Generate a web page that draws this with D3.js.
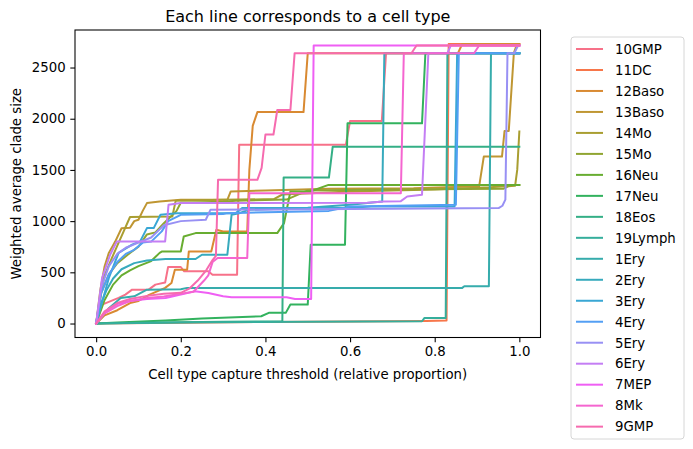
<html>
<head>
<script src="https://d3js.org/d3.v7.min.js"></script>
<style>
  body { margin: 0; background: #fff; }
  text { font-family: "DejaVu Sans", sans-serif; fill: #000; }
</style>
</head>
<body>
<svg id="chart" width="693" height="449"></svg>
<script>
// cell types, in legend (hue) order
const cellTypes = ["10GMP", "11DC", "12Baso", "13Baso", "14Mo", "15Mo", "16Neu", "17Neu", "18Eos",
  "19Lymph", "1Ery", "2Ery", "3Ery", "4Ery", "5Ery", "6Ery", "7MEP", "8Mk", "9GMP"];

// [threshold, weighted average clade size]
const v10GMP = [[0,0],[0.014,185],[0.053,250],[0.069,282],[0.085,331],[0.124,331],[0.14,380],[0.163,400],[0.17,552],[0.2,552],[0.208,510],[0.265,510],[0.275,477],[0.333,477],[0.338,1745],[0.59,1745],[0.6,1978],[0.675,1978],[0.685,2640],[1,2640]];
const v11DC = [[0,0],[0.2,8],[0.4,15],[0.6,20],[0.78,25],[0.828,30],[0.833,2730],[1,2730]];
const v12Baso = [[0,0],[0.02,80],[0.05,130],[0.08,200],[0.1,220],[0.125,280],[0.163,348],[0.178,396],[0.186,526],[0.215,526],[0.219,704],[0.272,704],[0.284,916],[0.3,899],[0.357,899],[0.362,1500],[0.37,1930],[0.381,2065],[0.49,2065],[0.5,2640],[0.855,2640],[0.865,2730],[1,2730]];
const v13Baso = [[0,0],[0.01,330],[0.02,560],[0.03,690],[0.045,800],[0.06,930],[0.08,935],[0.09,1000],[0.1,1013],[0.11,1100],[0.12,1176],[0.15,1191],[0.2,1208],[0.31,1208],[0.318,1290],[0.4,1300],[0.55,1315],[0.75,1320],[0.905,1340],[0.916,1630],[0.959,1630],[0.965,1880],[0.975,1880],[0.987,2640],[0.992,2700],[1,2720]];
const v14Mo = [[0,0],[0.01,280],[0.02,470],[0.035,620],[0.05,760],[0.065,900],[0.08,1040],[0.18,1045],[0.188,1200],[0.3,1208],[0.42,1215],[0.44,1260],[0.6,1290],[0.8,1310],[0.93,1330],[0.99,1345],[0.995,1500],[1,1875]];
const v15Mo = [[0,0],[0.012,300],[0.03,480],[0.05,590],[0.08,690],[0.1,750],[0.12,870],[0.14,890],[0.16,980],[0.19,1100],[0.2,1180],[0.3,1190],[0.33,1200],[0.45,1210],[0.5,1300],[0.7,1310],[0.962,1315],[0.98,1354],[1,1354]];
const v16Neu = [[0,0],[0.02,230],[0.04,380],[0.06,470],[0.08,520],[0.1,560],[0.13,610],[0.15,690],[0.156,704],[0.2,704],[0.207,850],[0.235,883],[0.428,883],[0.444,981],[0.459,1289],[0.506,1289],[0.549,1354],[1,1354]];
const v17Neu = [[0,0],[0.05,10],[0.164,29],[0.25,50],[0.39,71],[0.408,104],[0.448,104],[0.459,185],[0.5,185],[0.507,770],[0.588,770],[0.594,1955],[0.77,1955],[0.778,2640],[1,2640]];
const v18Eos = [[0,0],[0.1,8],[0.3,18],[0.44,22],[0.443,1425],[0.55,1425],[0.559,1727],[1,1727]];
const v19Lymph = [[0,0],[0.2,10],[0.5,18],[0.77,22],[0.776,55],[0.826,55],[0.83,2640],[1,2640]];
const v1Ery = [[0,0],[0.03,150],[0.058,250],[0.09,266],[0.12,331],[0.2,335],[0.215,348],[0.865,348],[0.87,364],[0.928,364],[0.933,2640],[1,2640]];
const v2Ery = [[0,0],[0.01,180],[0.025,330],[0.04,440],[0.06,530],[0.09,590],[0.12,615],[0.164,630],[0.235,630],[0.25,672],[0.31,672],[0.32,1062],[0.34,1080],[0.36,1110],[0.5,1130],[0.6,1160],[0.676,1191],[0.681,2640],[1,2640]];
const v3Ery = [[0,0],[0.03,445],[0.053,689],[0.085,770],[0.104,802],[0.12,932],[0.136,932],[0.152,1062],[0.191,1078],[0.33,1078],[0.345,1127],[0.6,1130],[0.65,1143],[0.847,1143],[0.853,2640],[1,2640]];
const v4Ery = [[0,0],[0.012,300],[0.03,480],[0.05,600],[0.07,680],[0.09,720],[0.11,790],[0.13,800],[0.155,900],[0.17,1000],[0.2,1062],[0.3,1070],[0.31,1078],[0.55,1100],[0.6,1143],[0.85,1160],[0.857,2640],[1,2640]];
const v5Ery = [[0,0],[0.012,350],[0.03,560],[0.05,680],[0.07,740],[0.1,790],[0.13,840],[0.16,960],[0.2,1000],[0.259,1013],[0.27,1110],[0.5,1115],[0.7,1120],[0.951,1127],[0.96,1150],[0.967,1210],[0.972,2640],[0.988,2640],[0.997,2715],[1,2715]];
const v6Ery = [[0,0],[0.014,445],[0.033,672],[0.049,802],[0.163,802],[0.171,1159],[0.2,1176],[0.64,1180],[0.68,1191],[0.72,1195],[0.735,1240],[0.77,1257],[0.785,2640],[0.83,2640],[0.838,2715],[1,2715]];
const v7MEP = [[0,0],[0.02,110],[0.05,190],[0.08,220],[0.12,240],[0.164,250],[0.2,282],[0.233,315],[0.265,299],[0.3,266],[0.32,256],[0.45,256],[0.47,240],[0.508,240],[0.514,2715],[1,2715]];
const v8Mk = [[0,0],[0.02,100],[0.05,170],[0.08,220],[0.12,250],[0.16,265],[0.2,290],[0.23,310],[0.255,420],[0.265,470],[0.275,600],[0.287,640],[0.357,640],[0.362,1273],[0.72,1273],[0.727,2640],[0.893,2640],[0.905,2715],[1,2715]];
const v9GMP = [[0,0],[0.02,120],[0.05,200],[0.08,240],[0.12,270],[0.16,290],[0.2,300],[0.22,340],[0.24,420],[0.26,520],[0.275,620],[0.283,660],[0.288,1403],[0.381,1403],[0.391,1520],[0.4,1846],[0.419,1846],[0.428,2085],[0.459,2085],[0.469,2640],[0.745,2640],[0.757,2715],[1,2715]];

const seriesValues = [v10GMP, v11DC, v12Baso, v13Baso, v14Mo, v15Mo, v16Neu, v17Neu, v18Eos, v19Lymph,
  v1Ery, v2Ery, v3Ery, v4Ery, v5Ery, v6Ery, v7MEP, v8Mk, v9GMP];

const xTicks = [0, 0.2, 0.4, 0.6, 0.8, 1.0];
const yTicks = [0, 500, 1000, 1500, 2000, 2500];

// seaborn's husl palette (h=.01, s=.9, l=.65)
function huslToRgb(h, s, l) {
  const m = [[3.2406, -1.5372, -0.4986], [-0.9689, 1.8758, 0.0415], [0.0557, -0.2040, 1.0570]];
  const refU = 0.19784, refV = 0.46834, kappa = 903.3, eps = 0.008856;
  const hrad = h * Math.PI / 180, sinH = Math.sin(hrad), cosH = Math.cos(hrad);
  const sub1 = Math.pow(l + 16, 3) / 1560896;
  const sub2 = sub1 > eps ? sub1 : l / kappa;
  let maxC = Infinity;
  m.forEach(([m1, m2, m3]) => {
    const top = (0.99915 * m1 + 1.05122 * m2 + 1.14460 * m3) * sub2;
    const rb = 0.86330 * m3 - 0.17266 * m2;
    const lb = 0.12949 * m3 - 0.38848 * m1;
    const bottom = (rb * sinH + lb * cosH) * sub2;
    [0, 1].forEach(t => {
      const C = l * (top - 1.05122 * t) / (bottom + 0.17266 * sinH * t);
      if (C > 0 && C < maxC) maxC = C;
    });
  });
  const C = maxC / 100 * s;
  const U = C * cosH, V = C * sinH;
  const t = (l + 16) / 116;
  const Y = Math.pow(t, 3) > eps ? Math.pow(t, 3) : (116 * t - 16) / kappa;
  const vu = U / (13 * l) + refU, vv = V / (13 * l) + refV;
  const X = -(9 * Y * vu) / ((vu - 4) * vv - vu * vv);
  const Z = (9 * Y - 15 * vv * Y - vv * X) / (3 * vv);
  const rgb = m.map(r => {
    const c = r[0] * X + r[1] * Y + r[2] * Z;
    const g = c <= 0.0031308 ? 12.92 * c : 1.055 * Math.pow(c, 1 / 2.4) - 0.055;
    return Math.round(Math.max(0, Math.min(1, g)) * 255);
  });
  return d3.rgb(rgb[0], rgb[1], rgb[2]).formatHex();
}
const n = cellTypes.length;
const palette = d3.range(n).map(i => huslToRgb(((i / n + 0.01) % 1) * 359, 0.9 * 99, 0.65 * 99));

const svg = d3.select("#chart");
const margin = { top: 30, right: 152.5, bottom: 111.5, left: 75 };
const width = 693 - margin.left - margin.right;
const height = 449 - margin.top - margin.bottom;

const x = d3.scaleLinear().domain([-0.05, 1.05]).range([0, width]);
const y = d3.scaleLinear().domain([-136.5, 2866.5]).range([height, 0]);

const g = svg.append("g").attr("transform", "translate(" + margin.left + "," + margin.top + ")");

const line = d3.line().x(d => x(d[0])).y(d => y(d[1]));

g.selectAll("path.series")
  .data(seriesValues)
  .join("path")
  .attr("class", "series")
  .attr("fill", "none")
  .attr("stroke", (d, i) => palette[i])
  .attr("stroke-width", 2)
  .attr("stroke-linejoin", "round")
  .attr("stroke-linecap", "square")
  .attr("d", line);

// axes, matplotlib style
const fontSize = 13.3;
const xAxis = g.append("g")
  .attr("transform", "translate(0," + height + ")")
  .call(d3.axisBottom(x).tickValues(xTicks).tickFormat(d3.format(".1f")).tickSizeInner(4.7).tickSizeOuter(0).tickPadding(4.7));
const yAxis = g.append("g")
  .call(d3.axisLeft(y).tickValues(yTicks).tickFormat(d3.format("d")).tickSizeInner(4.7).tickSizeOuter(0).tickPadding(4.7));
[xAxis, yAxis].forEach(a => {
  a.select(".domain").remove();
  a.selectAll("text").style("font-family", "DejaVu Sans").style("font-size", fontSize + "px").attr("fill", "#000");
  a.selectAll("line").attr("stroke", "#000").attr("stroke-width", 1.07);
});

g.append("rect")
  .attr("width", width).attr("height", height)
  .attr("fill", "none").attr("stroke", "#000").attr("stroke-width", 1.07);

svg.append("text")
  .attr("x", margin.left + width / 2).attr("y", 22)
  .attr("text-anchor", "middle").style("font-size", "16px")
  .text("Each line corresponds to a cell type");

svg.append("text")
  .attr("x", margin.left + width / 2).attr("y", 379)
  .attr("text-anchor", "middle").style("font-size", fontSize + "px")
  .text("Cell type capture threshold (relative proportion)");

svg.append("text")
  .attr("transform", "translate(21," + (margin.top + height / 2) + ") rotate(-90)")
  .attr("text-anchor", "middle").style("font-size", fontSize + "px")
  .text("Weighted average clade size");

// legend
const legend = svg.append("g").attr("transform", "translate(571,37)");
legend.append("rect")
  .attr("width", 113).attr("height", 402).attr("rx", 3)
  .attr("fill", "#fff").attr("fill-opacity", 0.8)
  .attr("stroke", "#d6d6d6").attr("stroke-width", 1);
const rows = legend.selectAll("g.row")
  .data(cellTypes)
  .join("g")
  .attr("class", "row")
  .attr("transform", (d, i) => "translate(0," + (12 + i * 20.98) + ")");
rows.append("line")
  .attr("x1", 5).attr("x2", 32)
  .attr("stroke", (d, i) => palette[i]).attr("stroke-width", 2);
rows.append("text")
  .attr("x", 44).attr("dy", "0.36em")
  .style("font-size", fontSize + "px")
  .text(d => d);
</script>
</body>
</html>
